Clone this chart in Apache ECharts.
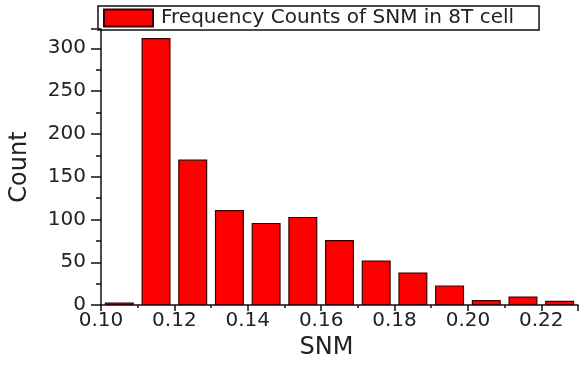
<!DOCTYPE html>
<html>
<head>
<meta charset="utf-8">
<script src="https://cdn.jsdelivr.net/npm/echarts@6/dist/echarts.min.js"></script>
<style>
  html, body { margin: 0; padding: 0; background: #fff; }
  #chart { width: 579px; height: 365px; }
</style>
</head>
<body>
<div id="chart"></div>
<script>
// Histogram data: bin centres (SNM) and counts
const binCenters = [0.105, 0.115, 0.125, 0.135, 0.145, 0.155, 0.165, 0.175, 0.185, 0.195, 0.205, 0.215, 0.225];
const counts     = [3, 312, 170, 111, 96, 103, 76, 52, 38, 23, 6, 10, 5];
const seriesName = 'Frequency Counts of SNM in 8T cell';
const xTickLabels = ['0.10', '0.12', '0.14', '0.16', '0.18', '0.20', '0.22'];
const yTickLabels = ['0', '50', '100', '150', '200', '250', '300'];

const textColor = '#222';
const fontFam = '"DejaVu Sans", Arial, sans-serif';

const chart = echarts.init(document.getElementById('chart'), null, { renderer: 'canvas' });
chart.setOption({
  animation: false,
  backgroundColor: '#ffffff',
  grid: { left: 98, right: 1, top: 29, bottom: 54, containLabel: false },
  legend: {
    left: 98, top: 6,
    data: [seriesName],
    itemWidth: 49, itemHeight: 17,
    borderColor: '#111', borderWidth: 1.5, borderRadius: 0,
    padding: [2, 25, 2, 5],
    icon: 'rect',
    textStyle: { color: textColor, fontFamily: fontFam, fontSize: 20, padding: [0, 0, 0, 3] }
  },
  xAxis: {
    type: 'value',
    min: 0.10, max: 0.23, interval: 0.02,
    name: 'SNM', nameLocation: 'middle', nameGap: 25,
    nameTextStyle: { color: textColor, fontFamily: fontFam, fontSize: 24, padding: [0, 26, 0, 0] },
    axisLine: { show: true, onZero: false, lineStyle: { color: '#111', width: 1.5 } },
    axisTick: { show: true, inside: false, length: 6, lineStyle: { color: '#111', width: 1.5 } },
    minorTick: { show: true, splitNumber: 2, length: 3, lineStyle: { color: '#111', width: 1.5 } },
    splitLine: { show: false },
    axisLabel: {
      color: textColor, fontFamily: fontFam, fontSize: 20, margin: 6,
      showMaxLabel: false,
      formatter: function (v) {
        const s = v.toFixed(2);
        return xTickLabels.indexOf(s) >= 0 ? s : '';
      }
    }
  },
  yAxis: {
    type: 'value',
    min: 0, max: 322.5, interval: 50,
    name: 'Count', nameLocation: 'middle', nameGap: 69,
    nameTextStyle: { color: textColor, fontFamily: fontFam, fontSize: 24 },
    axisLine: { show: true, onZero: false, lineStyle: { color: '#111', width: 1.5 } },
    axisTick: { show: true, inside: false, length: 10, lineStyle: { color: '#111', width: 1.5 } },
    minorTick: { show: true, splitNumber: 2, length: 5, lineStyle: { color: '#111', width: 1.5 } },
    splitLine: { show: false },
    axisLabel: {
      color: textColor, fontFamily: fontFam, fontSize: 20, margin: 15,
      showMaxLabel: false,
      formatter: function (v) {
        const s = String(Math.round(v));
        return yTickLabels.indexOf(s) >= 0 && Math.abs(v - Math.round(v)) < 1e-6 ? s : '';
      }
    }
  },
  series: [{
    name: seriesName,
    type: 'bar',
    barWidth: 29,
    data: binCenters.map((c, i) => [c, counts[i]]),
    itemStyle: { color: '#ff0000', borderColor: '#3a0000', borderWidth: 1.2 }
  }]
});
</script>
</body>
</html>
